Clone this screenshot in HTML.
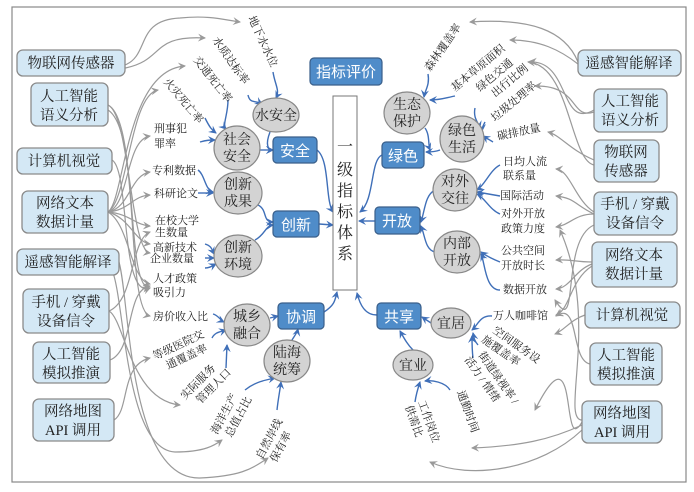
<!DOCTYPE html>
<html><head><meta charset="utf-8"><style>
html,body{margin:0;padding:0;background:#fff}
svg{display:block}
text{font-family:"Liberation Serif","Noto Serif CJK SC",serif}
.src{fill:#d4e8f5;stroke:#8a8a8a;stroke-width:1.3}
.blue{fill:#4f8cc9;stroke:#3a5f8a;stroke-width:1.2}
.ell{fill:#d3d3d3;stroke:#888;stroke-width:1.2}
.st{font-size:14.5px;fill:#222;text-anchor:middle}
.bt{font-size:15px;fill:#fff;text-anchor:middle;font-family:"Liberation Sans","Noto Sans CJK SC",sans-serif}
.et{font-size:14px;fill:#222;text-anchor:middle}
.lb{font-size:11px;fill:#222}
.g{fill:none;stroke:#9a9a9a;stroke-width:1.2;marker-end:url(#ag)}
.b{fill:none;stroke:#3f6fb8;stroke-width:1.4;marker-end:url(#ab)}
</style></head><body>
<svg width="694" height="492" viewBox="0 0 694 492" xmlns="http://www.w3.org/2000/svg">
<defs>
<marker id="ag" markerWidth="8" markerHeight="8" refX="7" refY="4" orient="auto" markerUnits="userSpaceOnUse"><path d="M0,0 L8,4 L0,8 L3,4z" fill="#9a9a9a"/></marker>
<marker id="ab" markerWidth="8" markerHeight="8" refX="7" refY="4" orient="auto" markerUnits="userSpaceOnUse"><path d="M0,0 L8,4 L0,8 L3,4z" fill="#3f6fb8"/></marker>
</defs>
<rect x="12" y="7" width="674" height="475" fill="#fff" stroke="#888" stroke-width="1.2"/>

<path class="g" d="M125,65 C150,55 135,20 180,18 C210,15 225,20 240,22"/>
<path class="g" d="M125,68 C165,60 150,35 205,38"/>
<path class="g" d="M108,212 C125,200 125,70 185,66"/>
<path class="g" d="M108,212 C128,200 130,95 158,90"/>
<path class="g" d="M108,212 C130,205 125,140 150,136"/>
<path class="g" d="M108,212 C130,208 130,175 150,172"/>
<path class="g" d="M108,212 C130,210 132,196 150,195"/>
<path class="g" d="M108,212 C130,214 135,225 150,226"/>
<path class="g" d="M108,212 C130,218 135,242 150,244"/>
<path class="g" d="M108,212 C130,225 130,280 150,284"/>
<path class="g" d="M108,105 C130,115 130,250 150,253"/>
<path class="g" d="M108,105 C140,120 125,310 150,316"/>
<path class="g" d="M108,110 C140,130 125,290 150,288"/>
<path class="g" d="M112,160 C130,170 120,300 150,288"/>
<path class="g" d="M119,262 C130,300 128,480 200,478 C240,476 250,470 268,458"/>
<path class="g" d="M112,270 C125,300 125,450 175,452 C205,452 215,445 222,440"/>
<path class="g" d="M109,311 C125,320 130,400 180,405"/>
<path class="g" d="M109,311 C135,300 130,240 150,232"/>
<path class="g" d="M110,360 C135,350 125,290 150,286"/>
<path class="g" d="M114,420 C130,410 120,365 150,358"/>
<path class="g" d="M578,62 C565,30 530,18 470,22"/>
<path class="g" d="M578,64 C560,50 540,40 510,40"/>
<path class="g" d="M594,110 C560,130 570,60 530,62"/>
<path class="g" d="M594,112 C570,120 580,85 535,86"/>
<path class="g" d="M594,160 C570,150 560,135 548,132"/>
<path class="g" d="M594,165 C570,160 570,65 528,62"/>
<path class="g" d="M594,212 C575,200 570,170 556,169"/>
<path class="g" d="M594,214 C575,205 575,198 556,196"/>
<path class="g" d="M594,214 C575,214 570,225 556,227"/>
<path class="g" d="M592,262 C575,262 570,259 556,260"/>
<path class="g" d="M592,264 C575,270 570,288 556,289"/>
<path class="g" d="M592,266 C570,280 570,310 556,315"/>
<path class="g" d="M585,315 C570,320 565,330 555,334"/>
<path class="g" d="M590,364 C570,360 580,300 556,316"/>
<path class="g" d="M582,420 C560,420 600,320 560,230"/>
<path class="g" d="M582,422 C560,460 580,320 535,410"/>
<path class="g" d="M582,425 C550,440 520,446 472,448"/>
<path class="g" d="M582,430 C540,470 470,480 430,462"/>
<path class="g" d="M594,225 C560,240 580,340 555,300"/>

<path class="b" d="M273,72 C275,85 280,90 276,98"/>
<path class="b" d="M248,95 C250,104 255,100 262,104"/>
<path class="b" d="M228,100 C228,115 222,125 226,129"/>
<path class="b" d="M205,118 C210,128 212,130 216,133"/>
<path class="b" d="M200,142 C207,140 210,140 215,140"/>
<path class="b" d="M270,132 C265,145 268,150 273,150"/>
<path class="b" d="M260,150 C265,150 268,150 273,150"/>
<path class="b" d="M317,150 C330,160 325,200 333,212"/>
<path class="b" d="M198,170 C205,175 205,190 213,192"/>
<path class="b" d="M198,193 C205,193 208,193 213,193"/>
<path class="b" d="M258,205 C268,210 262,222 273,222"/>
<path class="b" d="M255,240 C265,235 265,226 273,225"/>
<path class="b" d="M319,224 L333,225"/>
<path class="b" d="M205,244 C212,246 212,250 214,254"/>
<path class="b" d="M205,258 L214,258"/>
<path class="b" d="M205,268 C210,268 212,266 216,264"/>
<path class="b" d="M213,314 C218,315 220,320 224,322"/>
<path class="b" d="M212,338 C215,332 220,332 226,330"/>
<path class="b" d="M226,368 L227,345"/>
<path class="b" d="M270,318 L278,316"/>
<path class="b" d="M292,340 C295,335 297,333 298,329"/>
<path class="b" d="M324,312 C335,305 335,300 337,292"/>
<path class="b" d="M245,390 C255,382 265,380 275,378"/>
<path class="b" d="M277,410 C278,400 280,390 281,382"/>
<path class="b" d="M428,74 C430,85 425,90 424,97"/>
<path class="b" d="M455,96 C445,98 440,100 430,100"/>
<path class="b" d="M425,128 C430,135 428,145 430,150"/>
<path class="b" d="M440,150 C435,152 430,152 426,152"/>
<path class="b" d="M475,108 C473,118 478,122 480,128"/>
<path class="b" d="M485,122 C483,126 482,128 482,131"/>
<path class="b" d="M493,142 C490,140 486,138 483,136"/>
<path class="b" d="M382,155 C370,160 375,200 360,212"/>
<path class="b" d="M500,165 C490,170 485,185 477,190"/>
<path class="b" d="M500,196 L477,192"/>
<path class="b" d="M500,214 C490,210 485,198 477,194"/>
<path class="b" d="M500,262 C490,258 485,255 481,252"/>
<path class="b" d="M500,290 C485,290 485,262 481,254"/>
<path class="b" d="M435,190 C425,195 425,210 421,222"/>
<path class="b" d="M435,252 C425,250 425,235 421,226"/>
<path class="b" d="M375,221 L359,221"/>
<path class="b" d="M377,315 C365,315 360,305 357,293"/>
<path class="b" d="M431,323 L422,317"/>
<path class="b" d="M413,350 C408,345 405,340 400,331"/>
<path class="b" d="M492,316 C480,315 478,325 472,330"/>
<path class="b" d="M478,345 C474,340 474,338 473,333"/>
<path class="b" d="M473,358 C472,350 472,345 472,336"/>
<path class="b" d="M450,390 C445,382 432,380 425,381"/>
<path class="b" d="M415,402 C416,395 418,388 420,382"/>

<rect x="333" y="96" width="24" height="194" fill="#fff" stroke="#777" stroke-width="1"/>
<text font-size="16" fill="#222" text-anchor="middle">
<tspan x="345" y="152">一</tspan><tspan x="345" y="175">级</tspan><tspan x="345" y="196">指</tspan><tspan x="345" y="217">标</tspan><tspan x="345" y="238">体</tspan><tspan x="345" y="259">系</tspan></text>
<rect class="blue" x="310" y="58" width="72" height="27" rx="4"/><text class="bt" x="346" y="77">指标评价</text>

<rect class="blue" x="273" y="137" width="44" height="26" rx="4"/><text class="bt" x="295" y="156">安全</text>
<rect class="blue" x="273" y="211" width="46" height="26" rx="4"/><text class="bt" x="296" y="230">创新</text>
<rect class="blue" x="278" y="303" width="46" height="26" rx="4"/><text class="bt" x="301" y="322">协调</text>
<rect class="blue" x="382" y="142" width="42" height="26" rx="4"/><text class="bt" x="403" y="161">绿色</text>
<rect class="blue" x="375" y="207" width="45" height="27" rx="4"/><text class="bt" x="397" y="226">开放</text>
<rect class="blue" x="377" y="303" width="44" height="26" rx="4"/><text class="bt" x="399" y="322">共享</text>

<ellipse class="ell" cx="276" cy="115" rx="23" ry="17"/><text class="et" x="276" y="120">水安全</text>
<ellipse class="ell" cx="237" cy="148" rx="23" ry="22"/><text class="et" x="237" y="144">社会</text><text class="et" x="237" y="161">安全</text>
<ellipse class="ell" cx="238" cy="193" rx="24" ry="21"/><text class="et" x="238" y="189">创新</text><text class="et" x="238" y="206">成果</text>
<ellipse class="ell" cx="238" cy="256" rx="24" ry="21"/><text class="et" x="238" y="252">创新</text><text class="et" x="238" y="269">环境</text>
<ellipse class="ell" cx="247" cy="325" rx="23" ry="21"/><text class="et" x="247" y="321">城乡</text><text class="et" x="247" y="338">融合</text>
<ellipse class="ell" cx="287" cy="361" rx="23" ry="21"/><text class="et" x="287" y="357">陆海</text><text class="et" x="287" y="374">统筹</text>
<ellipse class="ell" cx="407" cy="113" rx="23" ry="21"/><text class="et" x="407" y="109">生态</text><text class="et" x="407" y="126">保护</text>
<ellipse class="ell" cx="462" cy="139" rx="22" ry="23"/><text class="et" x="462" y="135">绿色</text><text class="et" x="462" y="152">生活</text>
<ellipse class="ell" cx="455" cy="190" rx="22" ry="21"/><text class="et" x="455" y="186">对外</text><text class="et" x="455" y="203">交往</text>
<ellipse class="ell" cx="457" cy="252" rx="23" ry="21"/><text class="et" x="457" y="248">内部</text><text class="et" x="457" y="265">开放</text>
<ellipse class="ell" cx="451" cy="323" rx="20" ry="15"/><text class="et" x="451" y="328">宜居</text>
<ellipse class="ell" cx="413" cy="365" rx="20" ry="15"/><text class="et" x="413" y="370">宜业</text>

<rect class="src" x="17" y="50" width="108" height="26" rx="6"/><text class="st" x="71" y="68">物联网传感器</text>
<rect class="src" x="31" y="83" width="77" height="43" rx="6"/><text class="st" x="69" y="101">人工智能</text><text class="st" x="69" y="120">语义分析</text>
<rect class="src" x="17" y="148" width="95" height="26" rx="6"/><text class="st" x="64" y="166">计算机视觉</text>
<rect class="src" x="22" y="191" width="86" height="42" rx="6"/><text class="st" x="65" y="208">网络文本</text><text class="st" x="65" y="227">数据计量</text>
<rect class="src" x="17" y="249" width="102" height="26" rx="6"/><text class="st" x="68" y="267">遥感智能解译</text>
<rect class="src" x="23" y="289" width="86" height="44" rx="6"/><text class="st" x="66" y="307">手机 / 穿戴</text><text class="st" x="66" y="326">设备信令</text>
<rect class="src" x="33" y="342" width="77" height="41" rx="6"/><text class="st" x="71" y="359">人工智能</text><text class="st" x="71" y="378">模拟推演</text>
<rect class="src" x="33" y="399" width="81" height="42" rx="6"/><text class="st" x="73" y="416">网络地图</text><text class="st" x="73" y="435">API 调用</text>
<rect class="src" x="578" y="50" width="103" height="26" rx="6"/><text class="st" x="629" y="68">遥感智能解译</text>
<rect class="src" x="594" y="89" width="73" height="43" rx="6"/><text class="st" x="630" y="106">人工智能</text><text class="st" x="630" y="125">语义分析</text>
<rect class="src" x="594" y="140" width="65" height="42" rx="6"/><text class="st" x="626" y="157">物联网</text><text class="st" x="626" y="176">传感器</text>
<rect class="src" x="594" y="192" width="83" height="43" rx="6"/><text class="st" x="635" y="209">手机 / 穿戴</text><text class="st" x="635" y="228">设备信令</text>
<rect class="src" x="592" y="242" width="85" height="45" rx="6"/><text class="st" x="634" y="260">网络文本</text><text class="st" x="634" y="279">数据计量</text>
<rect class="src" x="585" y="302" width="95" height="26" rx="6"/><text class="st" x="632" y="320">计算机视觉</text>
<rect class="src" x="590" y="343" width="72" height="42" rx="6"/><text class="st" x="626" y="360">人工智能</text><text class="st" x="626" y="379">模拟推演</text>
<rect class="src" x="582" y="401" width="80" height="42" rx="6"/><text class="st" x="622" y="418">网络地图</text><text class="st" x="622" y="437">API 调用</text>

<text class="lb" x="154" y="132">刑事犯</text><text class="lb" x="154" y="147">罪率</text>
<text class="lb" x="152" y="174">专利数据</text>
<text class="lb" x="154" y="197">科研论文</text>
<text class="lb" x="155" y="224">在校大学</text><text class="lb" x="155" y="236">生数量</text>
<text class="lb" x="153" y="251">高新技术</text><text class="lb" x="150" y="262">企业数量</text>
<text class="lb" x="153" y="282">人才政策</text><text class="lb" x="153" y="296">吸引力</text>
<text class="lb" x="153" y="320">房价收入比</text>
<g transform="translate(155,360) rotate(-25)"><text class="lb" x="0" y="0">等级医院交</text><text class="lb" x="8" y="14">通覆盖率</text></g>
<g transform="translate(185,400) rotate(-45)"><text class="lb" x="0" y="0">实际服务</text><text class="lb" x="8" y="14">管理人口</text></g>
<g transform="translate(217,435) rotate(-62)"><text class="lb" x="0" y="0">海洋生产</text><text class="lb" x="4" y="14">总值占比</text></g>
<g transform="translate(262,460) rotate(-62)"><text class="lb" x="0" y="0">自然岸线</text><text class="lb" x="4" y="14">保有率</text></g>
<g transform="translate(163,82) rotate(50)"><text class="lb" x="0" y="0">火灾死亡率</text></g>
<g transform="translate(193,60) rotate(52)"><text class="lb" x="0" y="0">交通死亡率</text></g>
<g transform="translate(212,40) rotate(55)"><text class="lb" x="0" y="0">水质达标率</text></g>
<g transform="translate(248,18) rotate(65)"><text class="lb" x="0" y="0">地下水水位</text></g>
<g transform="translate(430,72) rotate(-55)"><text class="lb" x="0" y="0">森林覆盖率</text></g>
<g transform="translate(455,92) rotate(-40)"><text class="lb" x="0" y="0">基本草原面积</text></g>
<g transform="translate(480,92) rotate(-40)"><text class="lb" x="0" y="0">绿色交通</text><text class="lb" x="8" y="14">出行比例</text></g>
<g transform="translate(495,122) rotate(-40)"><text class="lb" x="0" y="0">垃圾处理率</text></g>
<g transform="translate(498,140) rotate(-12)"><text class="lb" x="0" y="0">碳排放量</text></g>
<text class="lb" x="503" y="165">日均人流</text><text class="lb" x="503" y="179">联系量</text>
<text class="lb" x="500" y="199">国际活动</text>
<text class="lb" x="501" y="217">对外开放</text><text class="lb" x="501" y="232">政策力度</text>
<text class="lb" x="501" y="254">公共空间</text><text class="lb" x="501" y="269">开放时长</text>
<text class="lb" x="503" y="293">数据开放</text>
<text class="lb" x="493" y="319">万人咖啡馆</text>
<g transform="translate(492,332) rotate(35)"><text class="lb" x="0" y="0">空间服务设</text><text class="lb" x="-4" y="14">施覆盖率</text></g>
<g transform="translate(478,355) rotate(55)"><text class="lb" x="0" y="0">街道绿视率 /</text><text class="lb" x="-4" y="14">活力 / 情绪</text></g>
<g transform="translate(457,392) rotate(70)"><text class="lb" x="0" y="0">通勤时间</text></g>
<g transform="translate(418,402) rotate(70)"><text class="lb" x="0" y="0">工作岗位</text><text class="lb" x="0" y="14">供需比</text></g>
</svg>
</body></html>
